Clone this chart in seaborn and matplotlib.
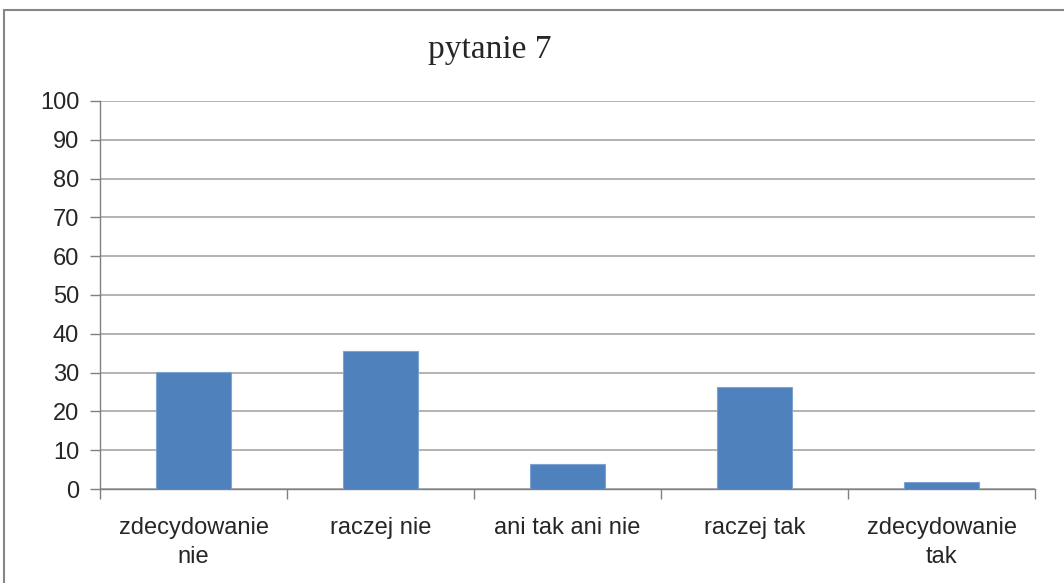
"""
pytanie 7 - bar chart of answers (percent).
"""

import numpy as np
import pandas as pd
import matplotlib
matplotlib.use("Agg")
import matplotlib.pyplot as plt
from matplotlib.patches import Rectangle
import seaborn as sns

categories = ["zdecydowanie\nnie", "raczej nie", "ani tak ani nie", "raczej tak", "zdecydowanie\ntak"]
values = [30.1, 35.6, 6.4, 26.4, 1.8]
y_ticks = list(range(0, 101, 10))
title = "pytanie 7"

BAR_COLOR = "#4F81BD"
GRID_COLOR = "#A6A6A6"

sns.set_theme(style="white")
plt.rcParams["font.family"] = ["Liberation Sans Narrow", "Liberation Sans", "DejaVu Sans"]

df = pd.DataFrame({"kategoria": categories, "procent": values})

fig = plt.figure(figsize=(10.64, 5.83), dpi=100)
ax = fig.add_axes([100 / 1064, 1 - 489 / 583, 935 / 1064, 388 / 583])

sns.barplot(data=df, x="kategoria", y="procent", color=BAR_COLOR, width=0.4,
            saturation=1, edgecolor="#7FA3D0", linewidth=0.8, ax=ax, zorder=3)

ax.set_ylim(0, 100)
ax.set_xlim(-0.5, len(categories) - 0.5)
ax.set_yticks(y_ticks)
ax.set_yticklabels([str(t) for t in y_ticks], fontsize=17)
ax.yaxis.grid(True, color=GRID_COLOR, linewidth=1.2, zorder=0)
ax.xaxis.grid(False)
ax.set_xlabel("")
ax.set_ylabel("")

# category labels centered, boundary ticks between categories
ax.set_xticks(range(len(categories)))
ax.set_xticklabels(categories, fontsize=17, linespacing=1.45)
ax.set_xticks(np.arange(-0.5, len(categories)), minor=True)
ax.tick_params(axis="x", which="major", bottom=True, length=0, pad=20)
ax.tick_params(axis="x", which="minor", bottom=True, length=7, width=1,
               color="#808080", direction="out")
ax.tick_params(axis="y", left=True, length=7, width=1, color="#808080",
               direction="out", pad=8)

for side in ["top", "right"]:
    ax.spines[side].set_visible(False)
for side in ["left", "bottom"]:
    ax.spines[side].set_color("#808080")
    ax.spines[side].set_linewidth(1)

fig.text(0.5 - 0.04, 1 - 50 / 583, title, ha="center", va="center",
         fontsize=24, family=["Liberation Serif", "DejaVu Serif"])

# outer chart frame (cut off on the right and bottom)
fig.patches.append(Rectangle((4 / 1064, -0.05), 1.1, 1 - 10 / 583 + 0.05,
                             transform=fig.transFigure, fill=False,
                             edgecolor="#868686", linewidth=1.5))

fig.savefig("out.png", dpi=100)
